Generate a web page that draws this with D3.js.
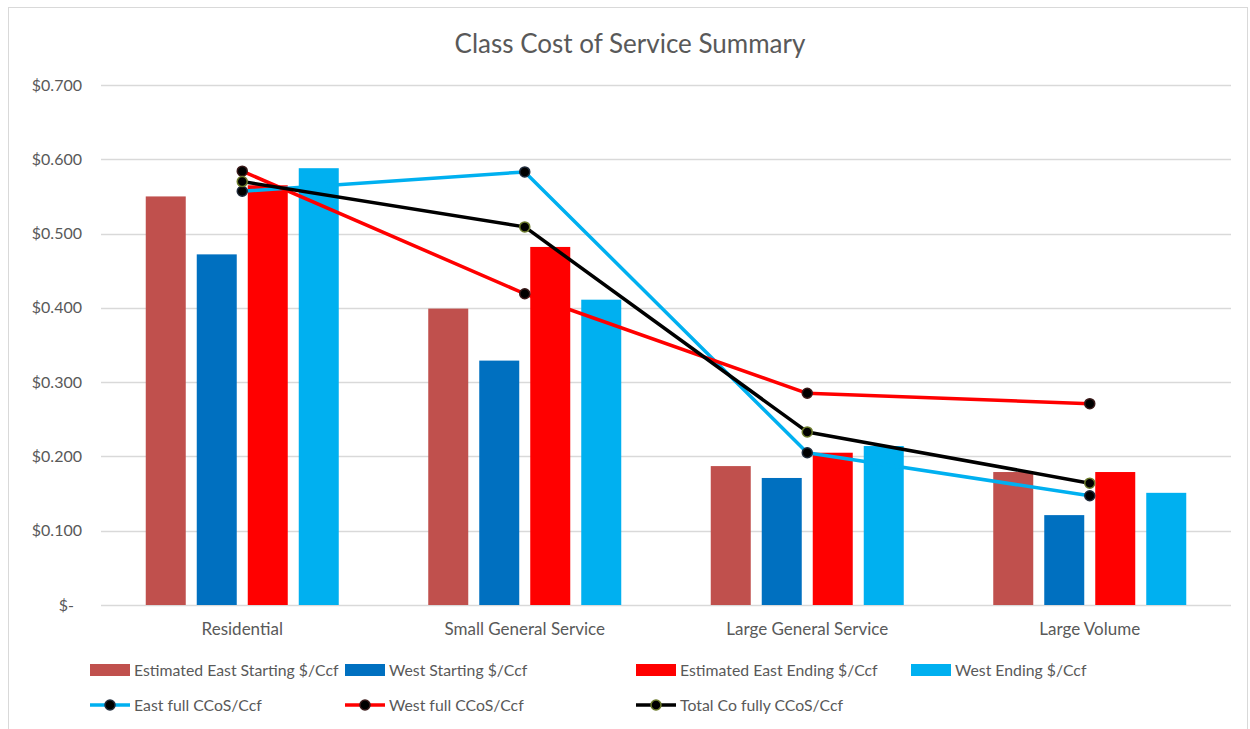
<!DOCTYPE html>
<html>
<head>
<meta charset="utf-8">
<script src="https://cdn.jsdelivr.net/npm/d3@7"></script>
<style>
  html, body { margin: 0; padding: 0; background: #fff; }
  svg { display: block; font-family: Lato, "Open Sans", sans-serif; }
</style>
</head>
<body>
<svg id="chart" width="1250" height="729"></svg>
<script>
const categories = ["Residential", "Small General Service", "Large General Service", "Large Volume"];

const barSeries = ["Estimated East Starting $/Ccf", "West Starting $/Ccf", "Estimated East Ending $/Ccf", "West Ending $/Ccf"];
const eastStart = [0.550, 0.399, 0.187, 0.179];
const westStart = [0.472, 0.329, 0.171, 0.121];
const eastEnd   = [0.565, 0.482, 0.205, 0.179];
const westEnd   = [0.588, 0.411, 0.214, 0.151];

const lineSeries = ["East full CCoS/Ccf", "West full CCoS/Ccf", "Total Co fully CCoS/Ccf"];
const eastFull  = [0.557, 0.583, 0.205, 0.147];
const westFull  = [0.584, 0.419, 0.285, 0.271];
const totalFull = [0.570, 0.509, 0.233, 0.164];

const yTicks = [0, 0.1, 0.2, 0.3, 0.4, 0.5, 0.6, 0.7];

const barColors  = ["#C0504D", "#0070C0", "#FF0000", "#00B0F0"];
const lineColors = ["#00B0F0", "#FF0000", "#000000"];
const markerStroke = ["#1f2a3a", "#3a1a1a", "#6b7a2a"];
const textColor = "#595959";

const svg = d3.select("#chart");

// chart frame
svg.append("rect")
  .attr("x", 8.5).attr("y", 7.5)
  .attr("width", 1239).attr("height", 740)
  .attr("fill", "#fff")
  .attr("stroke", "#d9d9d9");

const plot = { left: 101, right: 1231, top: 85, bottom: 605 };

const y = d3.scaleLinear().domain([0, 0.7]).range([plot.bottom, plot.top]);
const x0 = d3.scaleBand().domain(categories).range([plot.left, plot.right]);
const groupW = 193;
const x1 = d3.scaleBand().domain(barSeries).range([0, groupW]).paddingInner(11 / 51);

// title
svg.append("text")
  .attr("x", 630).attr("y", 53)
  .attr("text-anchor", "middle")
  .attr("font-size", 26)
  .attr("fill", textColor)
  .text("Class Cost of Service Summary");

// gridlines + y labels
const grid = svg.append("g");
grid.selectAll("line")
  .data(yTicks)
  .join("line")
  .attr("x1", plot.left).attr("x2", plot.right)
  .attr("y1", d => Math.round(y(d)) + 0.5)
  .attr("y2", d => Math.round(y(d)) + 0.5)
  .attr("stroke", "#d9d9d9")
  .attr("stroke-width", 1.3);

grid.selectAll("text")
  .data(yTicks)
  .join("text")
  .attr("x", d => d === 0 ? 74 : 82)
  .attr("y", d => y(d))
  .attr("dy", "0.35em")
  .attr("text-anchor", "end")
  .attr("font-size", 16)
  .attr("fill", textColor)
  .text(d => d === 0 ? "$-" : "$" + d3.format(".3f")(d));

// category labels
svg.append("g")
  .selectAll("text")
  .data(categories)
  .join("text")
  .attr("x", d => x0(d) + x0.bandwidth() / 2)
  .attr("y", 635)
  .attr("text-anchor", "middle")
  .attr("font-size", 17)
  .attr("fill", textColor)
  .text(d => d);

// bars
const barValues = [eastStart, westStart, eastEnd, westEnd];
const barData = [];
categories.forEach((c, i) => {
  barSeries.forEach((s, j) => barData.push({ cat: c, series: s, j: j, value: barValues[j][i] }));
});
const offset = (x0.bandwidth() - groupW) / 2;

svg.append("g")
  .selectAll("rect")
  .data(barData)
  .join("rect")
  .attr("x", d => x0(d.cat) + offset + x1(d.series))
  .attr("y", d => y(d.value))
  .attr("width", x1.bandwidth())
  .attr("height", d => y(0) - y(d.value))
  .attr("fill", d => barColors[d.j]);

// lines
const lineValues = [eastFull, westFull, totalFull];
const line = d3.line()
  .x((d, i) => x0(categories[i]) + x0.bandwidth() / 2)
  .y(d => y(d));

lineValues.forEach((vals, k) => {
  svg.append("path")
    .datum(vals)
    .attr("d", line)
    .attr("fill", "none")
    .attr("stroke", lineColors[k])
    .attr("stroke-width", 3.5)
    .attr("stroke-linejoin", "round");
});
lineValues.forEach((vals, k) => {
  svg.append("g")
    .selectAll("circle")
    .data(vals)
    .join("circle")
    .attr("cx", (d, i) => x0(categories[i]) + x0.bandwidth() / 2)
    .attr("cy", d => y(d))
    .attr("r", 5)
    .attr("fill", "#000")
    .attr("stroke", markerStroke[k])
    .attr("stroke-width", 1.5);
});

// legend
const legendX = [90, 345, 636, 911];
const legend = svg.append("g").attr("font-size", 15.8).attr("fill", textColor);

barSeries.forEach((s, j) => {
  legend.append("rect")
    .attr("x", legendX[j]).attr("y", 664)
    .attr("width", 40).attr("height", 12)
    .attr("fill", barColors[j]);
  legend.append("text")
    .attr("x", legendX[j] + 44).attr("y", 670)
    .attr("dy", "0.35em")
    .attr("fill", textColor)
    .text(s);
});

const lineLegendX = [90, 345, 636];
lineSeries.forEach((s, k) => {
  const lx = lineLegendX[k];
  legend.append("line")
    .attr("x1", lx).attr("x2", lx + 40)
    .attr("y1", 705).attr("y2", 705)
    .attr("stroke", lineColors[k])
    .attr("stroke-width", 3.5);
  legend.append("circle")
    .attr("cx", lx + 20).attr("cy", 705)
    .attr("r", 5)
    .attr("fill", "#000")
    .attr("stroke", markerStroke[k])
    .attr("stroke-width", 1.5);
  legend.append("text")
    .attr("x", lx + 44).attr("y", 705)
    .attr("dy", "0.35em")
    .attr("fill", textColor)
    .text(s);
});
</script>
</body>
</html>
